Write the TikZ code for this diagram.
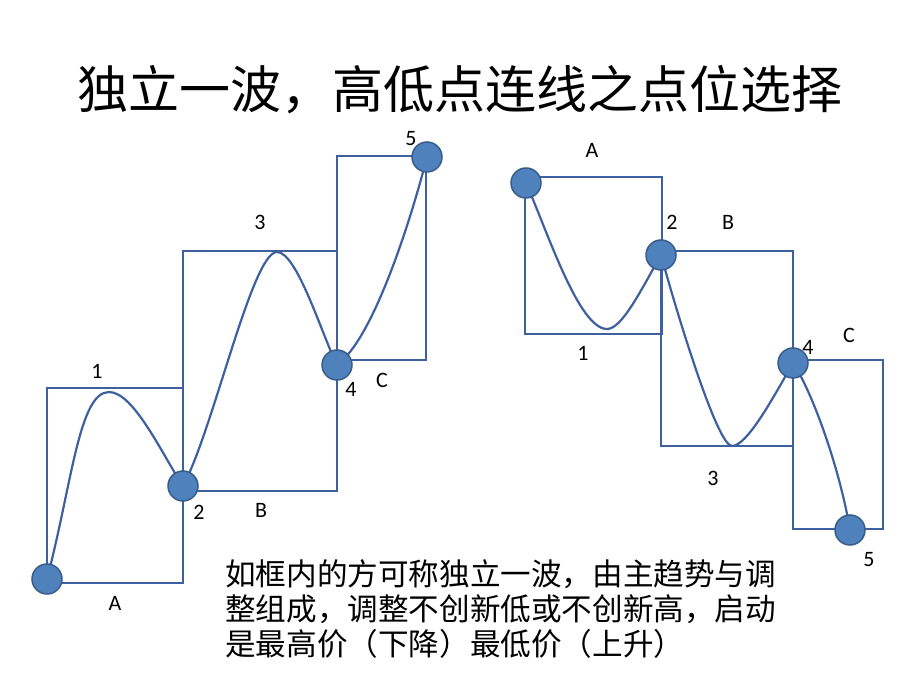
\documentclass[tikz,border=0pt]{standalone}
\usepackage{fontspec}
\setmainfont{Carlito}
\newfontfamily\cjk{Noto Sans CJK SC}
\definecolor{wline}{RGB}{62,96,158}
\definecolor{pfill}{RGB}{79,129,189}
\definecolor{pdraw}{RGB}{56,93,138}
\tikzset{
    wbox/.style={draw=wline, line width=2pt},
    wave/.style={draw=wline, line width=2.2pt},
    pivot/.style={circle, fill=pfill, draw=pdraw, line width=1.5pt, minimum size=30pt, inner sep=0pt},
    lbl/.style={font=\fontsize{22}{22}\selectfont, inner sep=0pt}
}
\begin{document}
\begin{tikzpicture}[x=1pt, y=1pt]
        \useasboundingbox (0,0) rectangle (920,690);
        %\draw[gray, dashed] (0,0) grid[step=50] (920,690);

        \node[anchor=base, inner sep=0pt, font=\cjk\fontsize{51}{51}\selectfont] (title) at (460,581) {独立一波，高低点连线之点位选择};

        % rising wave
        \draw[wbox] (47,107) rectangle (183,302);
        \draw[wbox] (183,199) rectangle (337,439);
        \draw[wbox] (337,330) rectangle (426,534);

        \coordinate (L1) at (109,298);
        \coordinate (L3) at (277,438);
        \path (47,111) coordinate (L0) (183,204) coordinate (L2) (337,325) coordinate (L4) (427,533) coordinate (L5);
        \draw[wave] (L0) .. controls +(25,95) and +(-30,0) .. (L1)
            .. controls +(25,0) and +(-20,30) .. (L2)
            .. controls +(30,55) and +(-25,0) .. (L3)
            .. controls +(20,0) and +(-15,30) .. (L4)
            .. controls +(35,25) and +(-18,-70) .. (L5);
        \node[pivot] (p0) at (L0) {};
        \node[pivot] (p2) at (L2) {};
        \node[pivot] (p4) at (L4) {};
        \node[pivot] (p5) at (L5) {};

        \node[lbl] at (97,319) {1};
        \node[lbl] at (199,178) {2};
        \node[lbl] at (260,468) {3};
        \node[lbl] at (351,301) {4};
        \node[lbl] at (411,551) {5};
        \node[lbl] at (115,87) {A};
        \node[lbl] at (261,180) {B};
        \node[lbl] at (382,310) {C};

        % falling wave
        \draw[wbox] (525,356) rectangle (662,513);
        \draw[wbox] (661,244) rectangle (793,439);
        \draw[wbox] (793,161) rectangle (883,330);

        \coordinate (R1) at (607,361);
        \coordinate (R3) at (732,244);
        \path (526,507) coordinate (R0) (661,435) coordinate (R2) (793,327) coordinate (R4) (850,160) coordinate (R5);
        \draw[wave] (R0) .. controls +(22,-50) and +(-28,0) .. (R1)
            .. controls +(15,0) and +(-20,-35) .. (R2)
            .. controls +(15,-55) and +(-15,0) .. (R3)
            .. controls +(15,0) and +(-20,-35) .. (R4)
            .. controls +(20,-30) and +(-10,60) .. (R5);
        \node[pivot] (q0) at (R0) {};
        \node[pivot] (q2) at (R2) {};
        \node[pivot] (q4) at (R4) {};
        \node[pivot] (q5) at (R5) {};

        \node[lbl] at (583,337) {1};
        \node[lbl] at (672,468) {2};
        \node[lbl] at (713,212) {3};
        \node[lbl] at (808,343) {4};
        \node[lbl] at (869,130) {5};
        \node[lbl] at (592,540) {A};
        \node[lbl] at (728,468) {B};
        \node[lbl] at (849,355) {C};

        \node[anchor=north west, inner sep=0pt, align=left, font=\cjk\fontsize{30.6}{35}\selectfont] (note) at (225,131) {如框内的方可称独立一波，由主趋势与调\\整组成，调整不创新低或不创新高，启动\\是最高价（下降）最低价（上升）};
    \end{tikzpicture}
\end{document}
